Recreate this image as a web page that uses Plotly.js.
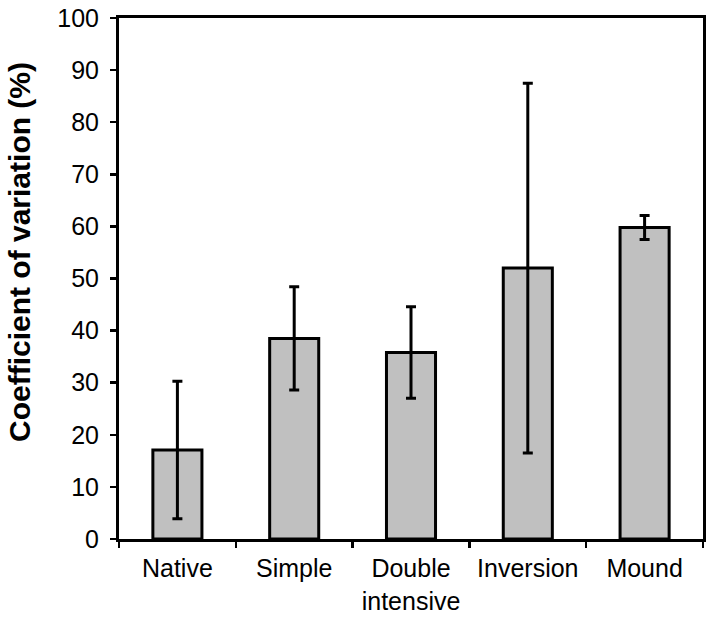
<!DOCTYPE html>
<html>
<head>
<meta charset="utf-8">
<script src="https://cdn.plot.ly/plotly-3.0.1.min.js"></script>
<style>html,body{margin:0;padding:0;background:#fff;}#chart{width:709px;height:618px;}</style>
</head>
<body>
<div id="chart"></div>
<script>
const categories = ["Native", "Simple", "Double<br>intensive", "Inversion", "Mound"];
const cvMeans = [17.1, 38.5, 35.8, 52.0, 59.8];
const cvErrors = [13.2, 9.9, 8.8, 35.5, 2.3];
const yTickValues = [0, 10, 20, 30, 40, 50, 60, 70, 80, 90, 100];
const yTitle = "Coefficient of variation (%)";

const FONT = "Liberation Sans, Arial, Helvetica, sans-serif";

const trace = {
  type: "bar",
  x: categories,
  y: cvMeans,
  width: 0.42,
  marker: { color: "#c0c0c0", line: { color: "#000", width: 3 } },
  error_y: { type: "data", array: cvErrors, visible: true, color: "#000", thickness: 3, width: 5 },
  hoverinfo: "none"
};

const layout = {
  width: 709,
  height: 618,
  margin: { l: 119, r: 6, t: 18, b: 79, pad: 0 },
  paper_bgcolor: "#fff",
  plot_bgcolor: "#fff",
  showlegend: false,
  font: { family: FONT, color: "#000", size: 25 },
  xaxis: {
    type: "category",
    showline: true, linecolor: "#000", linewidth: 3, mirror: true,
    showgrid: false, zeroline: false,
    ticks: "outside", ticklen: 6, tickwidth: 2.5, tickcolor: "#000",
    tickson: "boundaries",
    tickfont: { family: FONT, size: 25, color: "#000" },
    ticklabelstandoff: 5,
    fixedrange: true
  },
  yaxis: {
    range: [0, 100],
    tickvals: yTickValues,
    showline: true, linecolor: "#000", linewidth: 3, mirror: true,
    showgrid: false, zeroline: false,
    ticks: "outside", ticklen: 6, tickwidth: 2.5, tickcolor: "#000",
    tickfont: { family: FONT, size: 25, color: "#000" },
    ticklabelstandoff: 6,
    fixedrange: true
  },
  annotations: [{
    text: "<b>" + yTitle + "</b>",
    xref: "paper", yref: "paper",
    x: (19 - 119) / 584, y: (539 - 252) / 521,
    xanchor: "center", yanchor: "middle",
    textangle: -90, showarrow: false,
    font: { family: FONT, size: 30, color: "#000" }
  }]
};

Plotly.newPlot("chart", [trace], layout, { staticPlot: true, displayModeBar: false });
</script>
</body>
</html>
